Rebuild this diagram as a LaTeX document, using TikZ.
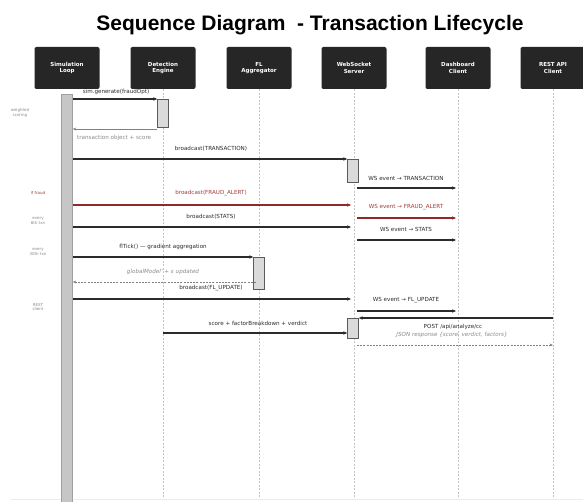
\documentclass[tikz,border=0pt]{standalone}
\usepackage{fontspec}
\setmainfont{DejaVu Sans}
\newfontfamily\titlefont{Liberation Sans}
\usetikzlibrary{arrows.meta}

\definecolor{boxc}{HTML}{262626}
\definecolor{linec}{HTML}{2B2B2B}
\definecolor{redline}{HTML}{8E2A2A}
\definecolor{redtext}{HTML}{A33B3B}
\definecolor{softtext}{HTML}{8A8A8A}
\definecolor{lifec}{HTML}{C4C4C4}
\definecolor{actfill}{HTML}{DADADA}
\definecolor{actdraw}{HTML}{5A5A5A}

\tikzset{
  actor/.style={fill=boxc, rounded corners=2pt, minimum width=65pt, minimum height=42pt,
    text=white, font=\fontsize{5.5}{6.6}\selectfont\bfseries, align=center, inner sep=0pt},
  lifeline/.style={draw=lifec, dashed, dash pattern=on 2pt off 1.5pt, line width=0.6pt},
  actbox/.style={fill=actfill, draw=actdraw, line width=0.5pt, minimum width=11pt, inner sep=0pt},
  msg/.style={draw=linec, line width=1.2pt, -{Stealth[length=4pt,width=3.4pt]}},
  alertmsg/.style={draw=redline, line width=1.2pt, -{Stealth[length=4pt,width=3.4pt]}},
  retmsg/.style={draw=gray, line width=0.7pt, -{Stealth[length=3.5pt,width=2.8pt]}},
  dashret/.style={draw=gray, line width=0.8pt, dash pattern=on 2pt off 1.2pt, -{Stealth[length=3.5pt,width=2.8pt]}},
  lbl/.style={font=\fontsize{5.6}{6.6}\selectfont, text=linec, inner sep=0pt},
  redlbl/.style={lbl, text=redtext},
  softlbl/.style={lbl, text=softtext},
  softit/.style={lbl, text=softtext, font=\fontsize{5.6}{6.6}\selectfont\itshape},
  sidenote/.style={font=\fontsize{4}{4.6}\selectfont, text=softtext, align=center, inner sep=0pt},
}

\begin{document}
\begin{tikzpicture}[x=1pt, y=-1pt]
\useasboundingbox (0,0) rectangle (583,502);
\fill[white] (0,0) rectangle (583,502);

% title
\node[font=\titlefont\fontsize{21}{25}\selectfont\bfseries, anchor=base, inner sep=0pt] (title) at (310,31) {Sequence Diagram \ - Transaction Lifecycle};

% participants
\node[actor] (sim)  at (67,68)  {Simulation\\Loop};
\node[actor] (eng)  at (163,68) {Detection\\Engine};
\node[actor] (fl)   at (259,68) {FL\\Aggregator};
\node[actor] (ws)   at (354,68) {WebSocket\\Server};
\node[actor] (dash) at (458,68) {Dashboard\\Client};
\node[actor] (rest) at (553,68) {REST API\\Client};

% lifelines
\coordinate (bottom) at (0,500);
\foreach \p in {eng,fl,ws,dash,rest}
  \draw[lifeline] (\p.south) -- (\p.south |- bottom);
\draw[gray!15, line width=0.4pt] (11,499) -- (583,499);

% long activation bar of the simulation loop
\node[actbox, fill=gray!45, draw=gray!75, minimum height=408pt, anchor=north] (simbar) at (67,94) {};

% activation boxes
\node[actbox, minimum height=28pt, anchor=north] (aeng) at (163,99) {};
\node[actbox, minimum height=23pt, anchor=north] (aws1) at (353,159) {};
\node[actbox, minimum height=32pt, anchor=north] (afl) at (259,257) {};
\node[actbox, minimum height=20pt, anchor=north] (aws2) at (353,318) {};

% message rows
\coordinate (rB) at (0,159);
\coordinate (rC) at (0,188);
\coordinate (rD) at (0,205);
\coordinate (rE) at (0,218);
\coordinate (rF) at (0,227);
\coordinate (rG) at (0,240);
\coordinate (rI) at (0,282);
\coordinate (rJ) at (0,299);
\coordinate (rK) at (0,311);
\coordinate (rM) at (0,333);
\coordinate (rN) at (0,345);

% generate transaction and score it
\draw[msg] (simbar.east |- aeng.north) -- (aeng.north west);
\node[lbl] (l1) at (116,92) {sim.generate(fraudOpt)};
\draw[retmsg] ([yshift=-1.5pt]aeng.south west) -- ([yshift=-1.5pt]simbar.east |- aeng.south);
\node[softlbl, anchor=west] (l2) at (77,138) {transaction object + score};

% broadcast the transaction
\draw[msg] (simbar.east |- rB) -- (aws1.north west);
\node[lbl] (l3) at (211,149) {broadcast(TRANSACTION)};
\draw[msg] ([xshift=3pt]ws.south |- rC) -- ([xshift=-2pt]dash.south |- rC);
\node[lbl] (l4) at (406,178) {WS event → TRANSACTION};

% fraud alert
\node[sidenote, text=redtext] (n2) at (38,193) {if fraud};
\draw[alertmsg] (simbar.east |- rD) -- ([xshift=-3pt]ws.south |- rD);
\node[redlbl] (l5) at (211,193) {broadcast(FRAUD\_ALERT)};
\draw[alertmsg] ([xshift=3pt]ws.south |- rE) -- ([xshift=-2pt]dash.south |- rE);
\node[redlbl] (l6) at (406,207) {WS event → FRAUD\_ALERT};

% statistics
\node[sidenote] (n3) at (38,221) {every\\6th txn};
\draw[msg] (simbar.east |- rF) -- ([xshift=-3pt]ws.south |- rF);
\node[lbl] (l7) at (211,217) {broadcast(STATS)};
\draw[msg] ([xshift=3pt]ws.south |- rG) -- ([xshift=-2pt]dash.south |- rG);
\node[lbl] (l8) at (406,229) {WS event → STATS};

% federated learning round
\node[sidenote] (n4) at (38,252) {every\\30th txn};
\draw[msg] (simbar.east |- afl.north) -- (afl.north west);
\node[lbl] (l9) at (163,247) {flTick() — gradient aggregation};
\draw[dashret] ([xshift=-3pt]fl.south |- rI) -- (simbar.east |- rI);
\node[softit] (l10) at (163,272) {globalModel' + ε updated};
\draw[msg] (simbar.east |- rJ) -- ([xshift=-3pt]ws.south |- rJ);
\node[lbl] (l11) at (211,288) {broadcast(FL\_UPDATE)};
\draw[msg] ([xshift=3pt]ws.south |- rK) -- ([xshift=-2pt]dash.south |- rK);
\node[lbl] (l12) at (406,300) {WS event → FL\_UPDATE};

% REST analysis request
\node[sidenote] (n5) at (38,307) {REST\\client};
\draw[msg] (rest.south |- aws2.north) -- (aws2.north east);
\node[lbl] (l13) at (453,327) {POST /api/analyze/cc};
\draw[msg] (eng.south |- rM) -- (aws2.west |- rM);
\node[lbl] (l14) at (258,323) {score + factorBreakdown + verdict};
\node[softit] (l15) at (452,335) {JSON response \{score, verdict, factors\}};
\draw[dashret] ([xshift=3pt]ws.south |- rN) -- (rest.south |- rN);

% side note of the scoring step
\node[sidenote] (n1) at (20,113) {weighted\\scoring};
\end{tikzpicture}
\end{document}
